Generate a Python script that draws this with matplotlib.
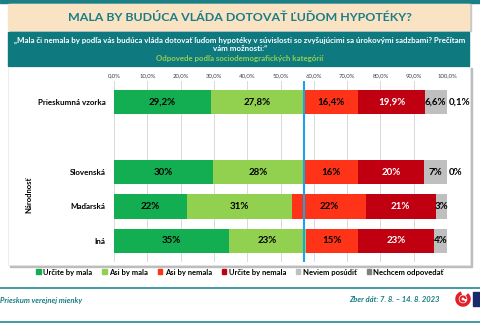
import matplotlib
matplotlib.use("Agg")
import matplotlib.pyplot as plt
from matplotlib.patches import Rectangle, Patch, Arc
from matplotlib.lines import Line2D
import numpy as np

plt.rcParams['font.family'] = ['Lato', 'DejaVu Sans']

categories = ["Prieskumná vzorka", "Slovenská", "Maďarská", "Iná"]
y_pos = [4.03, 2, 1, 0]
series = ["Určite by mala", "Asi by mala", "Asi by nemala", "Určite by nemala",
          "Neviem posúdiť", "Nechcem odpovedať"]
colors = ['#14AE52', '#92D050', '#FF3318', '#C00010', '#BFBFBF', '#7F7F7F']
text_colors = ['black', 'black', 'black', 'white', 'black', 'black']

values = np.array([
    [29.2, 27.8, 16.4, 19.9, 6.6, 0.1],
    [29.6, 27.6, 16.2, 19.6, 7.0, 0.0],
    [22.0, 31.5, 22.1, 21.0, 3.4, 0.0],
    [34.5, 23.3, 15.4, 22.9, 3.9, 0.0],
])
labels = [
    ["29,2%", "27,8%", "16,4%", "19,9%", "6,6%", "0,1%"],
    ["30%", "28%", "16%", "20%", "7%", "0%"],
    ["22%", "31%", "22%", "21%", "3%", ""],
    ["35%", "23%", "15%", "23%", "4%", ""],
]
ref_line = 57.0
xticks = np.arange(0, 101, 10)
xtick_labels = ["%d,0%%" % t for t in xticks]

W, H = 480, 323


def fx(x):
    return x / W


def fy(y):
    return 1 - y / H


fig = plt.figure(figsize=(4.8, 3.23), dpi=100)
fig.patch.set_facecolor('white')

teal = '#167C83'
# top band
fig.patches.append(Rectangle((0, fy(3)), 1, 3 / H, transform=fig.transFigure,
                             color='#1B7F86', zorder=-2))
# title box
fig.patches.append(Rectangle((fx(10), fy(31)), 461 / W, 27 / H, transform=fig.transFigure,
                             color='#C8C8C8', zorder=-2))
fig.patches.append(Rectangle((fx(8), fy(30)), 461 / W, 26 / H, transform=fig.transFigure,
                             color='#F9E3C3', zorder=-2))
fig.text(fx(240), fy(17.5), "MALA BY BUDÚCA VLÁDA DOTOVAŤ ĽUĎOM HYPOTÉKY?",
         ha='center', va='center', fontsize=8.9, fontweight='bold', color='#1A7D88')
# question box
fig.patches.append(Rectangle((fx(8), fy(66)), 461 / W, 34 / H, transform=fig.transFigure,
                             color='#0E7A80', zorder=-2))
fig.text(fx(240), fy(40), "„Mala či nemala by podľa vás budúca vláda dotovať ľuďom hypotéky "
         "v súvislosti so zvyšujúcimi sa úrokovými sadzbami? Prečítam",
         ha='center', va='center', fontsize=5.7, fontweight='bold', color='white')
fig.text(fx(240), fy(48.5), "vám možnosti:“", ha='center', va='center',
         fontsize=5.7, fontweight='bold', color='white')
fig.text(fx(240), fy(58), "Odpovede podľa sociodemografických kategórií", ha='center',
         va='center', fontsize=5.7, fontweight='bold', color='#92D050')
# chart box with shadow
fig.patches.append(Rectangle((fx(10), fy(267)), 462 / W, 199 / H, transform=fig.transFigure,
                             color='#BDBDBD', zorder=-2))
fig.patches.append(Rectangle((fx(8), fy(265)), 462 / W, 198 / H, transform=fig.transFigure,
                             facecolor='white', edgecolor='#E6E6E6', lw=0.5, zorder=-1))

# category frame lines
for yy in [84, 155, 258]:
    fig.lines.append(Line2D([fx(20), fx(113)], [fy(yy), fy(yy)], transform=fig.transFigure,
                            color='#E3E3E3', lw=0.6, zorder=-1))
fig.lines.append(Line2D([fx(20), fx(20)], [fy(84), fy(258)], transform=fig.transFigure,
                        color='#E3E3E3', lw=0.6, zorder=-1))

ax = fig.add_axes([fx(114), fy(262), 333 / W, 181 / H])
ax.set_zorder(2)
ax.set_facecolor('none')
ax.set_xlim(0, 100)
ax.set_ylim(-0.61, 4.64)

left = np.zeros(len(categories))
for j, s in enumerate(series):
    ax.barh(y_pos, values[:, j], left=left, height=0.7, color=colors[j], label=s, zorder=2)
    for i in range(len(categories)):
        lab = labels[i][j]
        if lab == "":
            continue
        if j == len(series) - 1:
            # the smallest share sits just right of the bar
            ax.text(left[i] + values[i, j] + 0.6, y_pos[i], lab, ha='left', va='center',
                    fontsize=7, fontweight='bold', color='black', zorder=3)
        else:
            ax.text(left[i] + values[i, j] / 2, y_pos[i], lab, ha='center', va='center',
                    fontsize=7, fontweight='bold', color=text_colors[j], zorder=3)
    left += values[:, j]

ax.axvline(ref_line, color='#1AA3E8', lw=1.5, zorder=4)

ax.set_xticks(xticks)
ax.set_xticklabels(xtick_labels)
ax.xaxis.tick_top()
ax.tick_params(axis='x', length=0, labelsize=4.3, pad=2, colors='#404040')
ax.grid(axis='x', color='#D9D9D9', lw=0.7, zorder=0)
ax.set_yticks(y_pos)
ax.set_yticklabels(categories, fontsize=5.8, fontweight='bold')
ax.tick_params(axis='y', length=0, pad=6)
for sp in ax.spines.values():
    sp.set_visible(False)

fig.text(fx(29), fy(195), "Národnosť", rotation=90, ha='center', va='center',
         fontsize=5.5, fontweight='bold')

handles = [Patch(color=c, label=s) for c, s in zip(colors, series)]
fig.legend(handles=handles, loc='center', bbox_to_anchor=(fx(240), fy(272)), ncol=6,
           frameon=False, prop={'size': 5.5, 'weight': 'bold'}, handlelength=0.6,
           handleheight=0.6, handletextpad=0.3, columnspacing=1.3)

# footer
fig.lines.append(Line2D([0, 1], [fy(288), fy(288)], transform=fig.transFigure,
                        color='#1F8A90', lw=1.2))
fig.lines.append(Line2D([0, 1], [fy(321.5), fy(321.5)], transform=fig.transFigure,
                        color='#1F8A90', lw=1.2))
fig.text(fx(0), fy(300), "Prieskum verejnej mienky", ha='left', va='center', fontsize=5.5,
         fontweight='bold', fontstyle='italic', color=teal)
fig.text(fx(440), fy(300), "Zber dát: 7. 8. – 14. 8. 2023", ha='right', va='center',
         fontsize=5.5, fontweight='bold', fontstyle='italic', color=teal)
# logo
fig.patches.append(Arc((fx(463), fy(299)), 12 / W, 12 / H, theta1=100, theta2=420,
                       transform=fig.transFigure, color='#E32028', lw=2.5))
fig.patches.append(Arc((fx(463), fy(299)), 5 / W, 5 / H, theta1=0, theta2=300,
                       transform=fig.transFigure, color='#E32028', lw=1.5))
fig.patches.append(Rectangle((fx(473), fy(306)), 7 / W, 14 / H, transform=fig.transFigure,
                             color='#1B2A6B'))

fig.savefig("out.png", dpi=100)
